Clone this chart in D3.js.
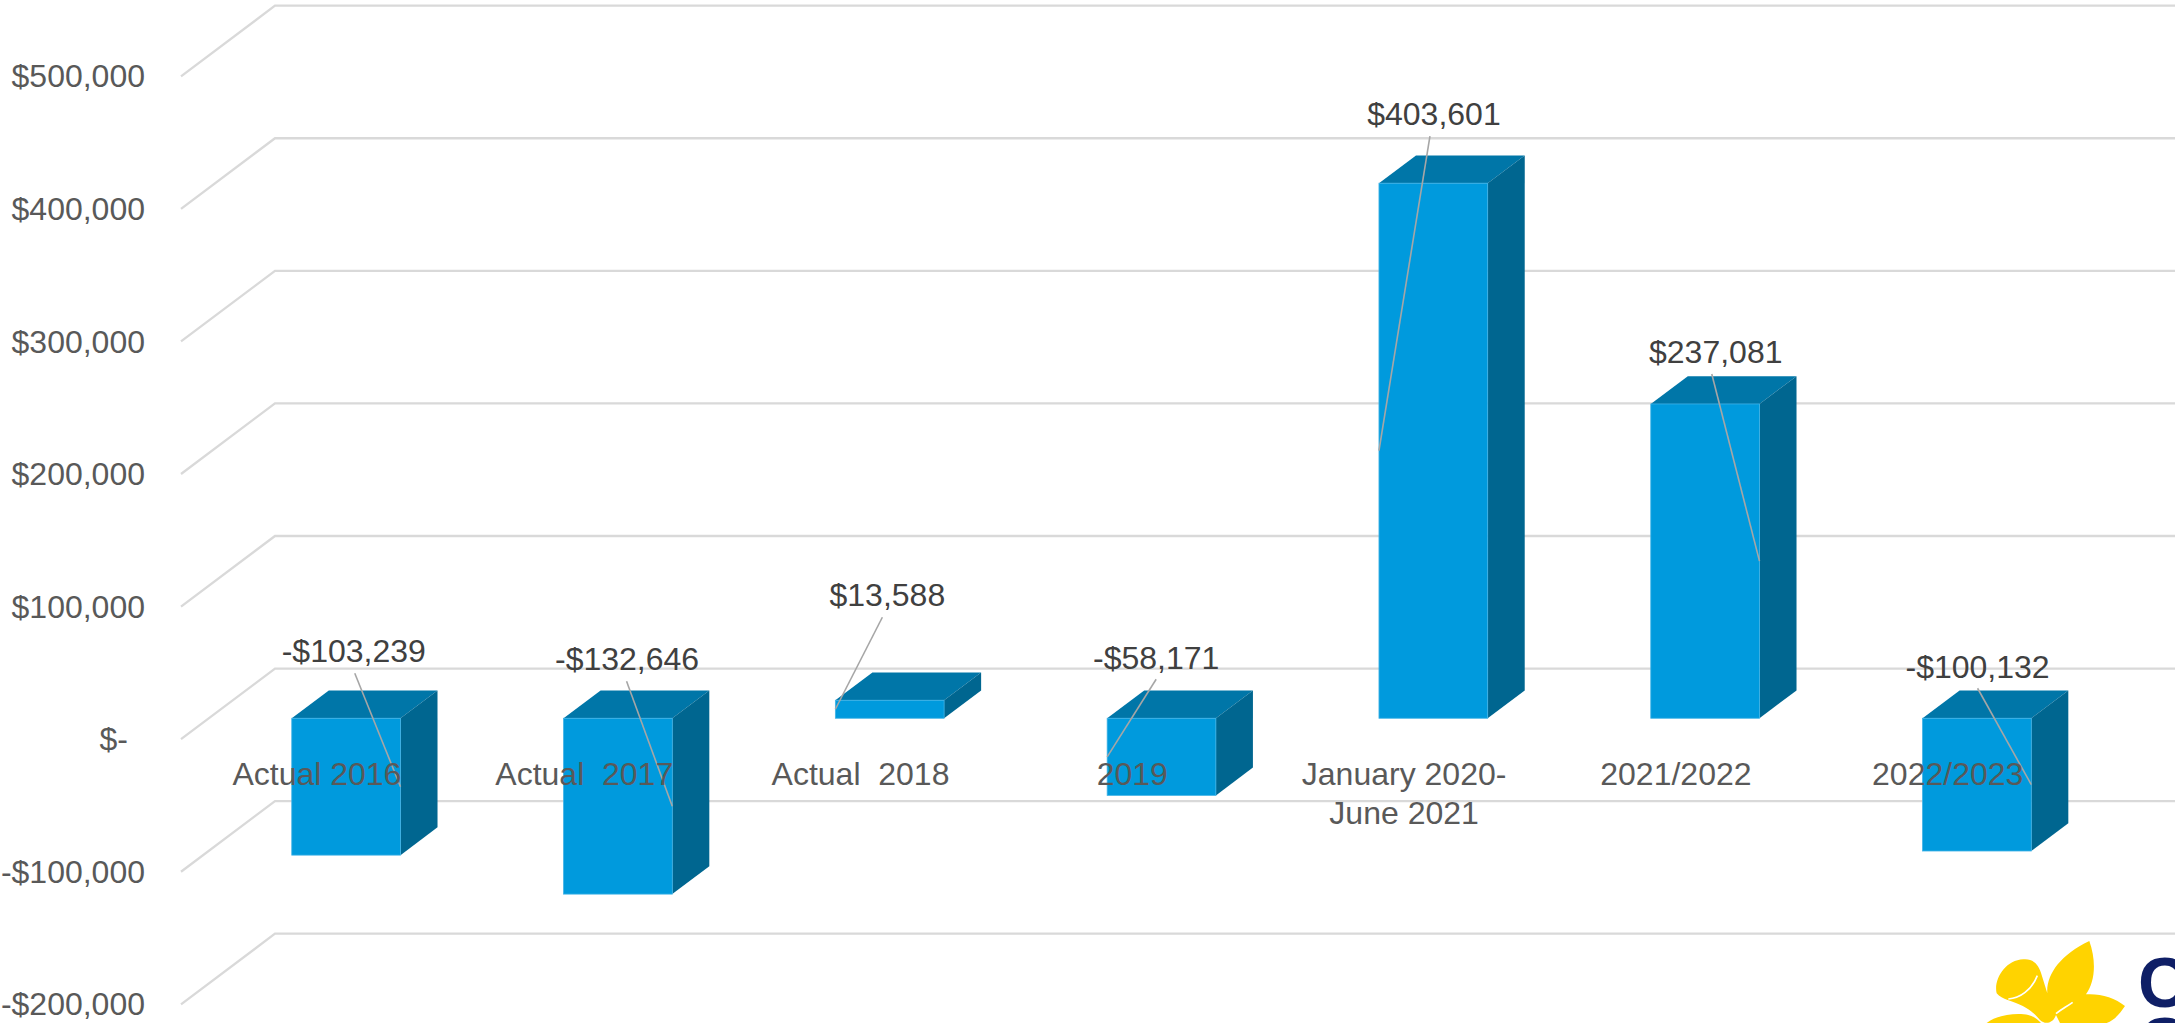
<!DOCTYPE html>
<html>
<head>
<meta charset="utf-8">
<style>
  html, body { margin: 0; padding: 0; background: #fff; overflow: hidden; }
  text { font-family: "Liberation Sans", Arial, sans-serif; white-space: pre; }
</style>
<script src="https://cdn.jsdelivr.net/npm/d3@7"></script>
</head>
<body>
<svg id="chart"></svg>
<script>
const width = 2175;
const height = 1023;

// chart data
const categories = ["Actual 2016", "Actual  2017 ", "Actual  2018", "2019", "January 2020-\nJune 2021", "2021/2022", "2022/2023"];
const values = [-103239, -132646, 13588, -58171, 403601, 237081, -100132];
const yTicks = [-200000, -100000, 0, 100000, 200000, 300000, 400000, 500000];

const fontSize = 32;

// the fake 3D box: depth 0 is the front edge of the floor, depth 1 the back wall
const depthX = 94;
const depthY = 70.6;
const barFront = 0.296;
const barBack = 0.69;
const barNudge = 1.4;

const x = d3.scaleBand()
  .domain(categories)
  .range([181, 2083.6])
  .paddingInner(0.6)
  .paddingOuter(0.3);

const y = d3.scaleLinear()
  .domain([-200000, 500000])
  .range([1004.3, 76.3]);

const px = (v, d) => v + depthX * d;
const py = (v, d) => y(v) - depthY * d;

const money = v => {
  if (v === 0) return "$-";
  return (v < 0 ? "-$" : "$") + d3.format(",")(Math.abs(v));
};

const svg = d3.select("#chart")
  .attr("width", width)
  .attr("height", height)
  .attr("viewBox", [0, 0, width, height])
  .style("display", "block");

const line = d3.line();

// gridlines, running up the side wall and then along the back wall
svg.append("g")
  .selectAll("path")
  .data(yTicks)
  .join("path")
  .attr("d", d => line([
    [x.range()[0], py(d, 0)],
    [px(x.range()[0], 1), py(d, 1)],
    [px(x.range()[1], 1), py(d, 1)]
  ]))
  .attr("fill", "none")
  .attr("stroke", "#d9d9d9")
  .attr("stroke-width", 2.3);

// value axis
const yAxis = svg.append("g")
  .attr("transform", "translate(145,0)")
  .call(d3.axisLeft(y).tickValues(yTicks).tickSize(0).tickPadding(0).tickFormat(money));
yAxis.select(".domain").remove();
yAxis.selectAll("text")
  .attr("dy", "0.33em")
  .attr("x", d => d === 0 ? -17 : 0)
  .attr("fill", "#595959")
  .attr("font-family", null)
  .attr("font-size", fontSize);

// bars
const bars = svg.append("g")
  .selectAll("g")
  .data(categories.map((c, i) => ({category: c, value: values[i]})))
  .join("g");

const poly = pts => line(pts) + "Z";

// top face sits on whichever end of the bar is higher
bars.append("path")
  .attr("d", d => {
    const l = x(d.category) + barNudge, r = l + x.bandwidth(), top = Math.max(d.value, 0);
    return poly([
      [px(l, barFront), py(top, barFront)],
      [px(l, barBack), py(top, barBack)],
      [px(r, barBack), py(top, barBack)],
      [px(r, barFront), py(top, barFront)]
    ]);
  })
  .attr("fill", "#0076a8");

// right face
bars.append("path")
  .attr("d", d => {
    const r = x(d.category) + barNudge + x.bandwidth(), top = Math.max(d.value, 0), bottom = Math.min(d.value, 0);
    return poly([
      [px(r, barFront), py(top, barFront)],
      [px(r, barBack), py(top, barBack)],
      [px(r, barBack), py(bottom, barBack)],
      [px(r, barFront), py(bottom, barFront)]
    ]);
  })
  .attr("fill", "#006690");

// front face
bars.append("rect")
  .attr("x", d => px(x(d.category) + barNudge, barFront))
  .attr("y", d => py(Math.max(d.value, 0), barFront))
  .attr("width", x.bandwidth())
  .attr("height", d => Math.abs(py(d.value, barFront) - py(0, barFront)))
  .attr("fill", "#009add")
  .attr("stroke", "#3fb2e6")
  .attr("stroke-width", 0.8);

// category labels, drawn over the bars like in the original
const xAxis = svg.append("g")
  .attr("transform", `translate(0,${y(0) + 35})`)
  .call(d3.axisBottom(x).tickSize(0).tickPadding(0).tickFormat(d => d.split("\n")[0]));
xAxis.select(".domain").remove();
xAxis.selectAll("text")
  .attr("font-family", null)
  .attr("font-size", fontSize)
  .attr("fill", "#595959")
  .attr("y", 0)
  .attr("dy", "0.35em");

// second line of the wrapped label
xAxis.selectAll(".tick")
  .filter(d => d.includes("\n"))
  .append("text")
  .attr("y", 39)
  .attr("dy", "0.35em")
  .attr("text-anchor", "middle")
  .attr("font-size", fontSize)
  .attr("fill", "#595959")
  .text(d => d.split("\n")[1]);

// data labels were dragged by hand in the original, so these are offsets from
// the bar's front top corner plus which side the leader line lands on
const labelShift = [
  {dx: 62, dy: -67, side: "right"},
  {dx: 63.5, dy: -59, side: "right"},
  {dx: 52, dy: -105, side: "left"},
  {dx: 49, dy: -60, side: "left"},
  {dx: 55, dy: -69, side: "left"},
  {dx: 65, dy: -52, side: "right"},
  {dx: 55, dy: -51, side: "right"}
];
const leaderStart = [
  {dx: 63, dy: -45},
  {dx: 63, dy: -37},
  {dx: 47, dy: -83},
  {dx: 49, dy: -39},
  {dx: 51, dy: -47},
  {dx: 61, dy: -30},
  {dx: 55, dy: -30}
];

const barLeft = d => px(x(d.category) + barNudge, barFront);
const barTop = d => py(Math.max(d.value, 0), barFront);

// leader lines
bars.append("line")
  .attr("x1", (d, i) => barLeft(d) + leaderStart[i].dx)
  .attr("y1", (d, i) => barTop(d) + leaderStart[i].dy)
  .attr("x2", (d, i) => labelShift[i].side === "right" ? barLeft(d) + x.bandwidth() : barLeft(d))
  .attr("y2", d => (py(d.value, barFront) + py(0, barFront)) / 2)
  .attr("stroke", "#a6a6a6")
  .attr("stroke-width", 1.6);

bars.append("text")
  .attr("x", (d, i) => barLeft(d) + labelShift[i].dx)
  .attr("y", (d, i) => barTop(d) + labelShift[i].dy)
  .attr("dy", "0.35em")
  .attr("text-anchor", "middle")
  .attr("font-size", fontSize)
  .attr("fill", "#404040")
  .text(d => money(d.value));

// logo in the corner, cut off by the edge of the page
const logo = svg.append("g");
const petals = logo.append("g").attr("transform", "translate(1960,925) scale(0.3333)");
petals.selectAll("path.petal")
  .data([
    "M110 205C100 165 135 105 190 103C225 100 238 125 245 150L262 205C258 150 300 90 388 48C410 110 405 170 378 208C420 205 465 218 495 243C480 265 465 285 440 294L300 294L288 270C280 295 255 300 240 285C215 255 190 240 143 225C130 220 118 215 110 205Z",
    "M80 294C110 270 170 262 205 270C225 275 235 285 243 294Z"
  ])
  .join("path")
  .attr("class", "petal")
  .attr("d", d => d)
  .attr("fill", "#ffd300");
petals.selectAll("path.crease")
  .data([
    "M232 152C215 195 180 220 145 222",
    "M288 266C305 252 320 245 338 232"
  ])
  .join("path")
  .attr("class", "crease")
  .attr("d", d => d)
  .attr("fill", "none")
  .attr("stroke", "#fff")
  .attr("stroke-width", 5);
logo.append("text")
  .attr("x", 2138)
  .attr("y", 1007)
  .attr("font-size", 70)
  .attr("font-weight", "bold")
  .attr("fill", "#0f1f66")
  .text("C");
logo.append("text")
  .attr("x", 2138)
  .attr("y", 1067)
  .attr("font-size", 70)
  .attr("font-weight", "bold")
  .attr("fill", "#0f1f66")
  .text("C");
</script>
</body>
</html>
